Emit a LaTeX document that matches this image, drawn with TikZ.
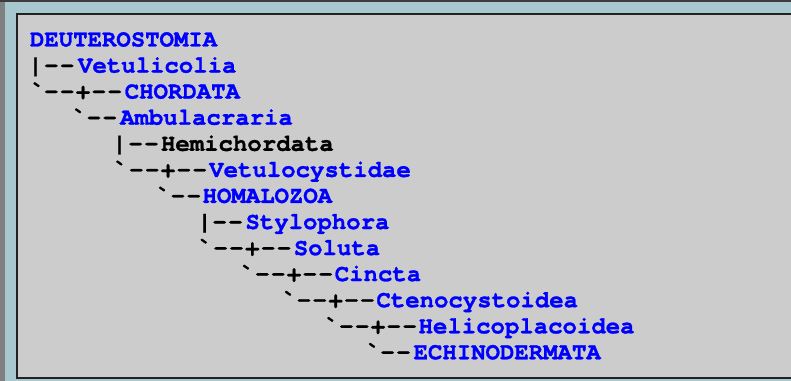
\documentclass[tikz,border=0pt]{standalone}
\usepackage{fontspec}
\newfontfamily\treefont{texgyrecursor}[Extension=.otf, UprightFont=*-regular, BoldFont=*-bold, BoldFeatures={FakeBold=1.2}]
\newfontfamily\connfont{texgyrecursor}[Extension=.otf, UprightFont=*-regular, BoldFont=*-bold, BoldFeatures={FakeBold=1.2}, LetterSpace=6]
\definecolor{framebl}{HTML}{A8C8CF}
\definecolor{leftgray}{HTML}{808080}
\definecolor{topdark}{HTML}{3C3C3C}
\definecolor{boxgray}{HTML}{CCCCCC}
\definecolor{boxline}{HTML}{222222}
\definecolor{taxblue}{HTML}{0000FF}
\tikzset{
  taxon/.style={inner sep=0pt, anchor=base west, text=taxblue,
    font=\treefont\bfseries\fontsize{18pt}{20pt}\selectfont},
  plaintaxon/.style={taxon, text=black},
  branchmark/.style={inner sep=0pt, anchor=base, text=black,
    font=\treefont\bfseries\fontsize{18pt}{20pt}\selectfont},
  dashes/.style={inner sep=0pt, anchor=base west, text=black,
    font=\connfont\bfseries\fontsize{18pt}{20pt}\selectfont},
}
\begin{document}
\begin{tikzpicture}[x=0.75pt,y=-0.75pt]
\useasboundingbox (0,0) rectangle (791,381);
\clip (0,0) rectangle (791,381);
\fill[framebl] (0,0) rectangle (791,381);
\fill[leftgray] (0,0) rectangle (5,381);
\fill[topdark] (0,0) rectangle (791,2.5);
\filldraw[fill=boxgray, draw=boxline, line width=1.5pt] (17,14) rectangle (810,377.8);
% line 0
\node[taxon] (n0) at (29.7,46.5) {DEUTEROSTOMIA};
% line 1
\node[branchmark] (m1) at (35.5,72.6) {|};
\node[dashes] (d1) at (43.9,72.6) {--};
\node[taxon] (n1) at (77.8,72.6) {Vetulicolia};
% line 2
\node[branchmark] (m2) at (37.5,98.6) {`};
\node[dashes] (d2) at (43.9,98.6) {--+--};
\node[taxon] (n2) at (124.5,98.6) {CHORDATA};
% line 3
\node[branchmark] (m3) at (79,124.7) {`};
\node[dashes] (d3) at (86.5,124.7) {--};
\node[taxon] (n3) at (119.8,124.7) {Ambulacraria};
% line 4
\node[branchmark] (m4) at (119.5,150.8) {|};
\node[dashes] (d4) at (128.2,150.8) {--};
\node[plaintaxon] (n4) at (160.7,150.8) {Hemichordata};
% line 5
\node[branchmark] (m5) at (120.3,176.9) {`};
\node[dashes] (d5) at (128.9,176.9) {--+--};
\node[taxon] (n5) at (209,176.9) {Vetulocystidae};
% line 6
\node[branchmark] (m6) at (163,202.9) {`};
\node[dashes] (d6) at (170.5,202.9) {--};
\node[taxon] (n6) at (202.3,202.9) {HOMALOZOA};
% line 7
\node[branchmark] (m7) at (204.6,229.0) {|};
\node[dashes] (d7) at (212.2,229.0) {--};
\node[taxon] (n7) at (245.2,229.0) {Stylophora};
% line 8
\node[branchmark] (m8) at (204.7,255.1) {`};
\node[dashes] (d8) at (213.2,255.1) {--+--};
\node[taxon] (n8) at (293.5,255.1) {Soluta};
% line 9
\node[branchmark] (m9) at (247,281.1) {`};
\node[dashes] (d9) at (254.9,281.1) {--+--};
\node[taxon] (n9) at (334.5,281.1) {Cincta};
% line 10
\node[branchmark] (m10) at (289,307.2) {`};
\node[dashes] (d10) at (296.5,307.2) {--+--};
\node[taxon] (n10) at (376.2,307.2) {Ctenocystoidea};
% line 11
\node[branchmark] (m11) at (331.3,333.3) {`};
\node[dashes] (d11) at (338.9,333.3) {--+--};
\node[taxon] (n11) at (418.3,333.3) {Helicoplacoidea};
% line 12
\node[branchmark] (m12) at (373,359.3) {`};
\node[dashes] (d12) at (380.2,359.3) {--};
\node[taxon] (n12) at (413.3,359.3) {ECHINODERMATA};
\end{tikzpicture}
\end{document}
